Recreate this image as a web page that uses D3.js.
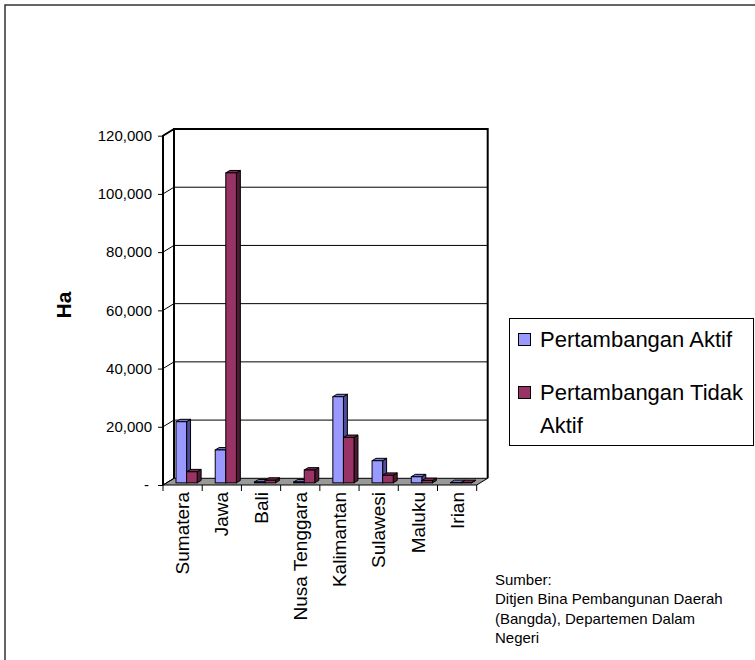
<!DOCTYPE html>
<html>
<head>
<meta charset="utf-8">
<script src="https://d3js.org/d3.v7.min.js"></script>
<style>
  body { margin: 0; background: #fff; }
  svg text { font-family: Arial, "Liberation Sans", sans-serif; fill: #000; }
</style>
</head>
<body>
<script>
// data (hectares)
var categories = ["Sumatera", "Jawa", "Bali", "Nusa Tenggara", "Kalimantan", "Sulawesi", "Maluku", "Irian"];
var seriesNames = ["Pertambangan Aktif", "Pertambangan Tidak Aktif"];
var aktif = [21000, 11300, 300, 300, 29600, 7600, 2100, 100];
var tidakAktif = [3800, 106500, 900, 4400, 15600, 2600, 800, 100];
var yTicks = [0, 20000, 40000, 60000, 80000, 100000, 120000];
var sumber = ["Sumber:", "Ditjen Bina Pembangunan Daerah", "(Bangda), Departemen Dalam", "Negeri"];

var W = 755, H = 660;
var colors = {
  front: ["#9999ff", "#993366"],
  side: ["#4d4d99", "#4d1a33"],
  top: ["#7a7acc", "#7a2952"]
};

var svg = d3.select("body").append("svg")
  .attr("width", W).attr("height", H);

// outer frame, runs past the right / bottom edge like the original
svg.append("rect")
  .attr("x", 5).attr("y", 5).attr("width", 820).attr("height", 720)
  .attr("fill", "none").attr("stroke", "#333").attr("stroke-width", 1.5);

/*
  pseudo 3D plot area: front plane + depth offset
*/
var left = 163, right = 476.7, base = 485, topY = 135.7;
var DX = 11, DY = -6.7;   // full depth of the floor

var x = d3.scaleBand().domain(categories).range([left, right]);
var y = d3.scaleLinear().domain([0, 120000]).range([base, topY]);

var g = svg.append("g");

// back wall
g.append("rect")
  .attr("x", left + DX).attr("y", topY + DY)
  .attr("width", right - left).attr("height", base - topY)
  .attr("fill", "#fff").attr("stroke", "none");

// grid lines on back wall and left wall
yTicks.forEach(function(t) {
  if (t === 0) return;
  g.append("line")
    .attr("x1", left + DX).attr("x2", right + DX)
    .attr("y1", y(t) + DY).attr("y2", y(t) + DY)
    .attr("stroke", "#000").attr("stroke-width", 1);
  g.append("line")
    .attr("x1", left).attr("x2", left + DX)
    .attr("y1", y(t)).attr("y2", y(t) + DY)
    .attr("stroke", "#000").attr("stroke-width", 1);
});

// back wall border
g.append("path")
  .attr("d", "M" + (left + DX) + "," + (base + DY) + "V" + (topY + DY) + "H" + (right + DX) + "V" + (base + DY))
  .attr("fill", "none").attr("stroke", "#000").attr("stroke-width", 2);

// floor
g.append("path")
  .attr("d", "M" + left + "," + base + "H" + right + "L" + (right + DX) + "," + (base + DY) +
    "H" + (left + DX) + "Z")
  .attr("fill", "#999").attr("stroke", "#000").attr("stroke-width", 1);

// left wall outline
g.append("path")
  .attr("d", "M" + left + "," + base + "V" + topY + "L" + (left + DX) + "," + (topY + DY))
  .attr("fill", "none").attr("stroke", "#000").attr("stroke-width", 2);
g.append("line")
  .attr("x1", left).attr("x2", left + DX).attr("y1", base).attr("y2", base + DY)
  .attr("stroke", "#000");

// y axis ticks and labels on the front edge
var yAxis = d3.axisLeft(y).tickValues(yTicks).tickSize(5).tickSizeOuter(0)
  .tickFormat(function(d) { return d === 0 ? "-" : d3.format(",")(d); });
var ya = svg.append("g").attr("transform", "translate(" + left + ",0)").call(yAxis);
ya.select(".domain").remove();
ya.selectAll(".tick line").attr("stroke", "#000");
ya.selectAll(".tick text")
  .attr("font-size", 15)
  .attr("x", function(d) { return d === 0 ? -14 : -11; });

// category ticks below the floor
var edges = categories.map(function(c) { return x(c); }).concat([right]);
g.selectAll("line.ctick").data(edges).enter().append("line")
  .attr("class", "ctick")
  .attr("x1", function(d) { return d; }).attr("x2", function(d) { return d; })
  .attr("y1", base).attr("y2", base + 6)
  .attr("stroke", "#000");

// bars: sit half way into the depth
var bw = x.bandwidth() * 0.27;
var z0 = 0.32, z1 = 0.68;
var rows = [];
categories.forEach(function(c, i) {
  [aktif[i], tidakAktif[i]].forEach(function(v, s) {
    rows.push({ cat: c, s: s, v: v });
  });
});

var bars = g.selectAll("g.bar").data(rows).enter().append("g").attr("class", "bar");
function bx(d) {
  var mid = x(d.cat) + x.bandwidth() / 2 + DX * 0.5 - DX * z0 + 2;
  return mid - bw + d.s * bw;
}

bars.each(function(d) {
  var el = d3.select(this);
  var x0 = bx(d), x1 = x0 + bw;
  var ox = DX * z0, oy = DY * z0;
  var dx = DX * (z1 - z0), dy = DY * (z1 - z0);
  var yb = y(0) + oy, yt = y(d.v) + oy;
  // side face
  el.append("path")
    .attr("d", "M" + x1 + "," + yb + "V" + yt + "L" + (x1 + dx) + "," + (yt + dy) +
      "V" + (yb + dy) + "Z")
    .attr("fill", colors.side[d.s]).attr("stroke", "#000").attr("stroke-width", 1);
  // top face
  el.append("path")
    .attr("d", "M" + x0 + "," + yt + "H" + x1 + "L" + (x1 + dx) + "," + (yt + dy) +
      "H" + (x0 + dx) + "Z")
    .attr("fill", colors.top[d.s]).attr("stroke", "#000").attr("stroke-width", 1);
  // front face
  el.append("rect")
    .attr("x", x0).attr("y", yt).attr("width", bw).attr("height", yb - yt)
    .attr("fill", colors.front[d.s]).attr("stroke", "#000").attr("stroke-width", 1);
});

// category labels, rotated
svg.selectAll("text.cat").data(categories).enter().append("text")
  .attr("class", "cat")
  .attr("font-size", 19)
  .attr("text-anchor", "end")
  .attr("transform", function(c) {
    return "translate(" + (x(c) + x.bandwidth() / 2) + "," + (base + 7) + ") rotate(-90)";
  })
  .attr("dy", "0.35em")
  .text(function(c) { return c; });

// y title
svg.append("text")
  .attr("transform", "translate(64,305) rotate(-90)")
  .attr("text-anchor", "middle").attr("dy", "0.35em")
  .attr("font-size", 21).attr("font-weight", "bold")
  .text("Ha");

// legend
var lg = svg.append("g");
lg.append("rect")
  .attr("x", 509.5).attr("y", 318.5).attr("width", 244).attr("height", 127)
  .attr("fill", "#fff").attr("stroke", "#000");
var legendLines = [[seriesNames[0]], ["Pertambangan Tidak", "Aktif"]];
var legendY = [347, 400];
legendLines.forEach(function(lines, s) {
  lg.append("rect")
    .attr("x", 518.5).attr("y", legendY[s] - 13.5).attr("width", 12).attr("height", 12)
    .attr("fill", colors.front[s]).attr("stroke", "#000");
  lines.forEach(function(t, k) {
    lg.append("text")
      .attr("x", 540).attr("y", legendY[s] + k * 33)
      .attr("font-size", 22)
      .text(t);
  });
});

// source note
svg.selectAll("text.src").data(sumber).enter().append("text")
  .attr("class", "src")
  .attr("x", 495)
  .attr("y", function(d, i) { return 585 + i * 19.3; })
  .attr("font-size", 15)
  .text(function(d) { return d; });
</script>
</body>
</html>
